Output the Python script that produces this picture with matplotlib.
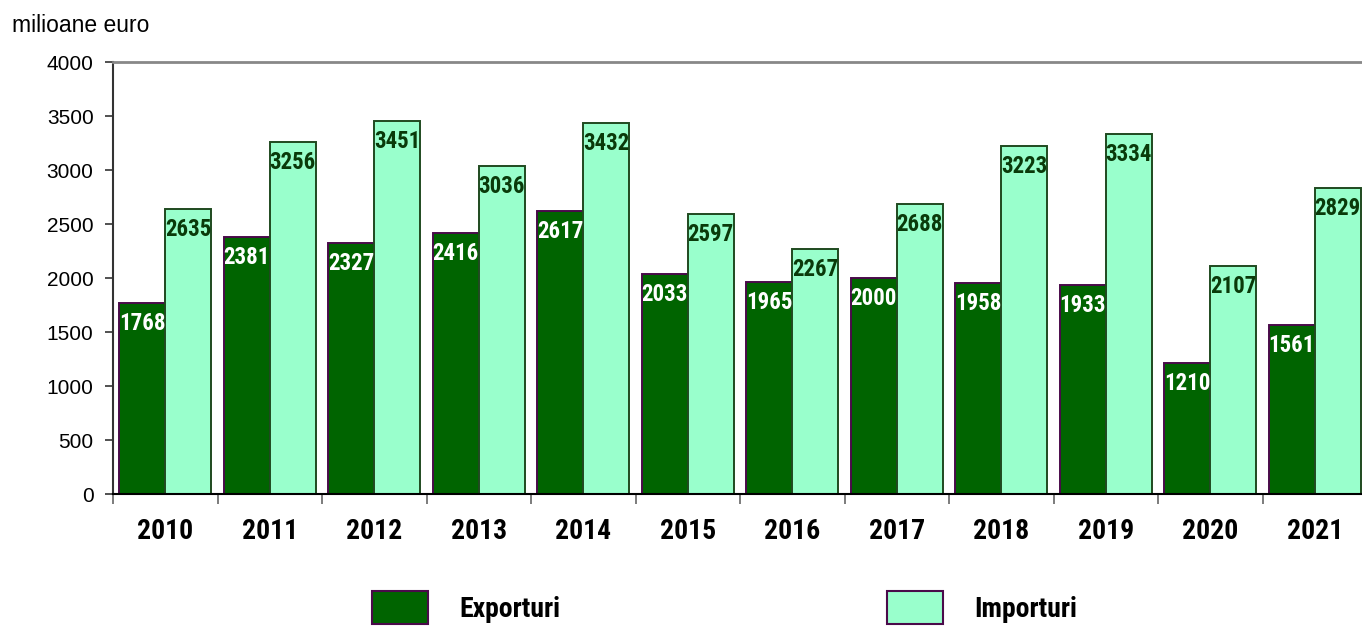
import matplotlib
matplotlib.use("Agg")
import matplotlib.pyplot as plt
import numpy as np
from matplotlib import font_manager
from matplotlib.patches import Patch

years = ["2010", "2011", "2012", "2013", "2014", "2015",
         "2016", "2017", "2018", "2019", "2020", "2021"]
exporturi = [1768, 2381, 2327, 2416, 2617, 2033, 1965, 2000, 1958, 1933, 1210, 1561]
importuri = [2635, 3256, 3451, 3036, 3432, 2597, 2267, 2688, 3223, 3334, 2107, 2829]

EXP_COLOR = "#006400"
IMP_COLOR = "#99FFCC"
EXP_EDGE = "#4a0a4a"
IMP_EDGE = "#1f4a1f"

# narrow bold font like the original (Arial Narrow), pick what is installed
bold_names = {f.name for f in font_manager.fontManager.ttflist
              if (f.weight if isinstance(f.weight, int) else 400) >= 600}
NARROW = "DejaVu Sans"
for cand in ["Liberation Sans Narrow", "Arial Narrow", "Arimo Narrow",
             "Roboto Condensed", "Archivo Narrow", "PT Sans Narrow", "Open Sans Condensed"]:
    if cand in bold_names:
        NARROW = cand
        break
REGULAR = "Liberation Sans"

fig = plt.figure(figsize=(13.62, 6.27), dpi=100)
ax = fig.add_axes([113 / 1362, 1 - 494 / 627, 1254 / 1362, 432 / 627])

x = np.arange(len(years))
w = 0.44
b1 = ax.bar(x - w / 2, exporturi, w, color=EXP_COLOR, edgecolor=EXP_EDGE, linewidth=1.4)
b2 = ax.bar(x + w / 2, importuri, w, color=IMP_COLOR, edgecolor=IMP_EDGE, linewidth=1.4)

for rect, v in zip(b1, exporturi):
    ax.annotate(str(v), (rect.get_x() + rect.get_width() / 2, v), xytext=(0, -6.5),
                textcoords="offset points", ha="center", va="top",
                fontsize=16.5, fontweight="bold", family=NARROW, color="white")
for rect, v in zip(b2, importuri):
    ax.annotate(str(v), (rect.get_x() + rect.get_width() / 2, v), xytext=(0, -6.5),
                textcoords="offset points", ha="center", va="top",
                fontsize=16.5, fontweight="bold", family=NARROW, color="#0a3a0a")

ax.set_xlim(-0.5, len(years) - 0.5)
ax.set_ylim(0, 4000)
ax.set_yticks(np.arange(0, 4001, 500))
ax.set_yticklabels([str(t) for t in range(0, 4001, 500)], family=REGULAR, fontsize=15)
ax.tick_params(axis="y", direction="out", length=6, width=1.2, pad=8, color="#333333")

ax.set_xticks(x)
ax.set_xticklabels(years, family=NARROW, fontweight="bold", fontsize=20)
ax.tick_params(axis="x", which="major", length=0, pad=17)
ax.set_xticks(np.arange(-0.5, len(years), 1), minor=True)
ax.tick_params(axis="x", which="minor", direction="out", length=7, width=1.2, color="#666666")

ax.spines["top"].set_color("#888888")
ax.spines["top"].set_linewidth(2)
ax.spines["left"].set_color("#333333")
ax.spines["left"].set_linewidth(1.5)
ax.spines["bottom"].set_color("black")
ax.spines["bottom"].set_linewidth(1.5)
ax.spines["right"].set_visible(False)

fig.text(12 / 1362, 1 - 26 / 627, "milioane euro", family=REGULAR, fontsize=16.5,
         ha="left", va="center")

leg_kw = dict(frameon=False, handlelength=2.0, handleheight=1.45, handletextpad=1.15,
              borderaxespad=0, borderpad=0,
              prop={"family": NARROW, "weight": "bold", "size": 20})
l1 = fig.legend(handles=[Patch(facecolor=EXP_COLOR, edgecolor=EXP_EDGE, linewidth=1.5)],
                labels=["Exporturi"], loc="upper left",
                bbox_to_anchor=(372 / 1362, 1 - 591 / 627), **leg_kw)
l2 = fig.legend(handles=[Patch(facecolor=IMP_COLOR, edgecolor=EXP_EDGE, linewidth=1.5)],
                labels=["Importuri"], loc="upper left",
                bbox_to_anchor=(887 / 1362, 1 - 591 / 627), **leg_kw)

fig.savefig("out.png", dpi=100)
